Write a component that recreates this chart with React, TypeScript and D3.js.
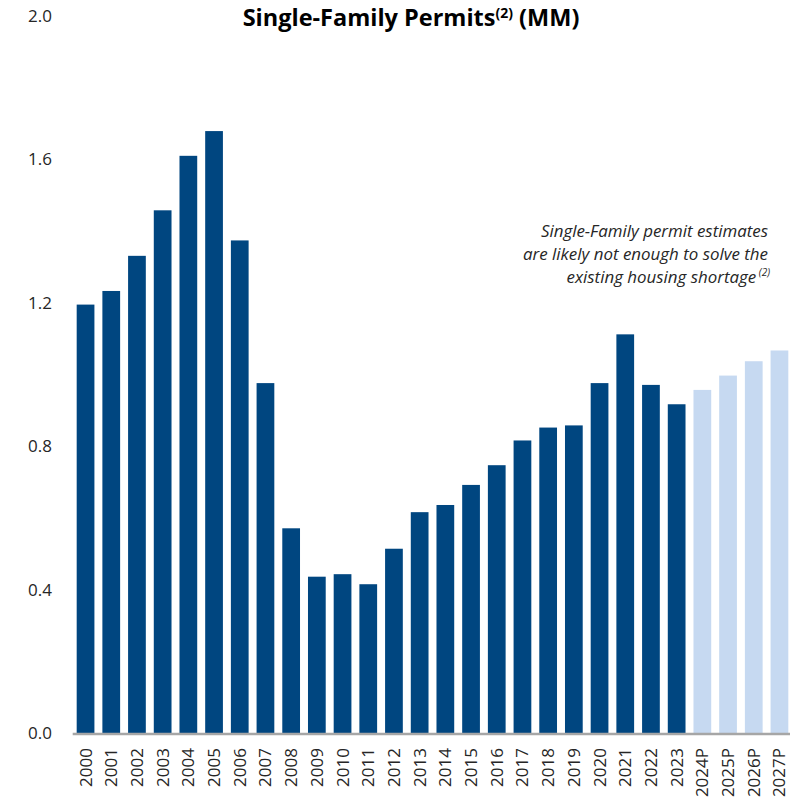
import React from 'react';
import * as d3 from 'd3';

// years along the x axis; P = projected
const years = [
  '2000', '2001', '2002', '2003', '2004', '2005', '2006', '2007', '2008', '2009',
  '2010', '2011', '2012', '2013', '2014', '2015', '2016', '2017', '2018', '2019',
  '2020', '2021', '2022', '2023', '2024P', '2025P', '2026P', '2027P',
];

// single-family permits, millions
const permits = [
  1.195, 1.233, 1.331, 1.458, 1.610, 1.679, 1.374, 0.976, 0.571, 0.436,
  0.443, 0.415, 0.514, 0.616, 0.636, 0.692, 0.747, 0.816, 0.852, 0.858,
  0.976, 1.112, 0.971, 0.917, 0.957, 0.997, 1.037, 1.067,
];

const yTicks = [0, 0.4, 0.8, 1.2, 1.6, 2.0];

const noteLines = [
  'Single-Family permit estimates',
  'are likely not enough to solve the',
  'existing housing shortage',
];

const WIDTH = 800;
const HEIGHT = 803;
const DARK = '#004680';
const LIGHT = '#c6d9f1';
const FONT = '"Open Sans", "Liberation Sans", sans-serif';

export default function App() {
  const x = d3.scaleBand<string>()
    .domain(years)
    .range([72.7, 792.3])
    .paddingInner(0.31)
    .paddingOuter(0.155);

  const y = d3.scaleLinear()
    .domain([0, 2])
    .range([733, 16]);

  return (
    <svg
      width={WIDTH}
      height={HEIGHT}
      style={{ position: 'absolute', left: 0, top: 0, background: '#fff' }}
      fontFamily={FONT}
    >
      <text x={411} y={26} textAnchor="middle" fontSize={23.5} fontWeight="bold" fill="#000">
        Single-Family Permits
        <tspan fontSize={14} dy={-8}>(2)</tspan>
        <tspan dy={8}> (MM)</tspan>
      </text>

      {yTicks.map(t => (
        <text key={t} x={52} y={y(t)} dy="0.35em" textAnchor="end" fontSize={17} fill="#262626">
          {d3.format('.1f')(t)}
        </text>
      ))}

      {years.map((yr, i) => (
        <rect
          key={yr}
          x={x(yr)}
          y={y(permits[i])}
          width={x.bandwidth()}
          height={y(0) - y(permits[i])}
          fill={yr.endsWith('P') ? LIGHT : DARK}
        />
      ))}

      <line x1={72.7} x2={790} y1={y(0) + 1} y2={y(0) + 1} stroke="#a6a6a6" strokeWidth={2.5} />

      {years.map(yr => {
        const cx = (x(yr) ?? 0) + x.bandwidth() / 2;
        return (
          <text
            key={yr}
            transform={`translate(${cx},748) rotate(-90)`}
            dy="0.35em"
            textAnchor="end"
            fontSize={17}
            fill="#262626"
          >
            {yr}
          </text>
        );
      })}

      <g fontStyle="italic" fontSize={16.9} fill="#262626" textAnchor="end">
        <text x={768} y={237}>{noteLines[0]}</text>
        <text x={768} y={260}>{noteLines[1]}</text>
        <text x={770} y={283}>
          {noteLines[2]}
          <tspan fontSize={10} dy={-7}> (2)</tspan>
        </text>
      </g>
    </svg>
  );
}
